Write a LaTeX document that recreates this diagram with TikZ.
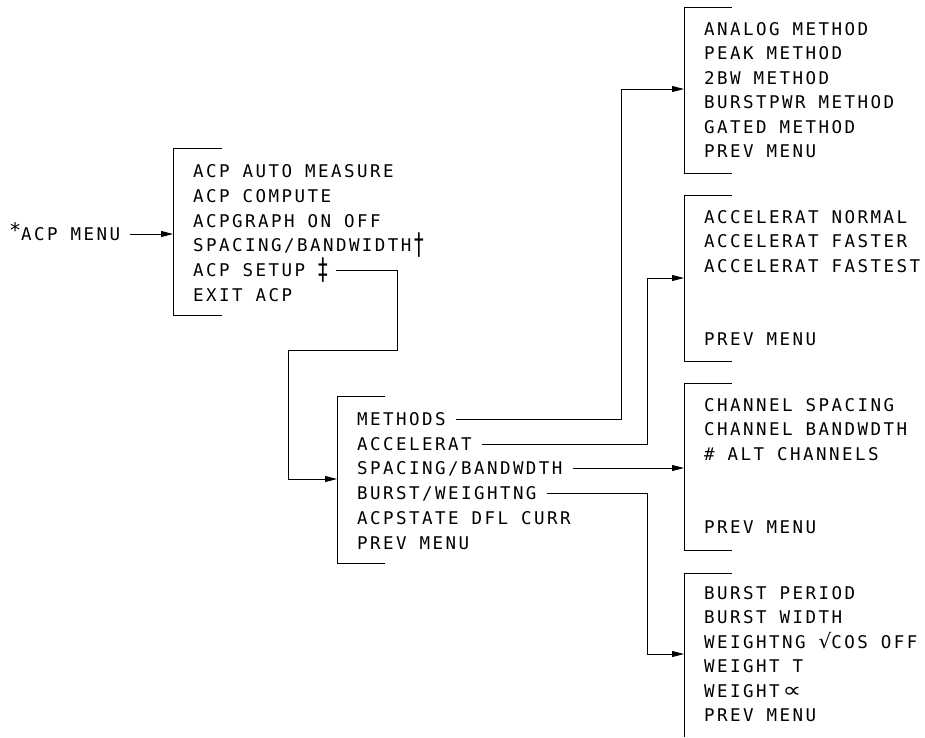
\documentclass[tikz,border=0pt]{standalone}
\usepackage{fontspec}
\usepackage{graphicx}
\usetikzlibrary{arrows.meta,calc}
\newfontfamily\monof{DejaVu Sans Mono}[LetterSpace=14]
\newfontfamily\symf{DejaVu Sans}
\newcommand\bigsym[1]{{\symf\fontsize{20pt}{20pt}\selectfont #1}}
\newcommand\talldag[1]{\raisebox{-3pt}{\scalebox{1.1}[1.7]{\symf #1}}}
\tikzset{
  mt/.style={anchor=base west, inner sep=0pt, font=\monof\fontsize{17.5pt}{19pt}\selectfont},
  bracket/.style={line width=0.9pt, line join=miter},
  conn/.style={line width=0.9pt},
  arr/.style={conn, -{Triangle[length=12pt,width=6pt]}},
}
\begin{document}
\begin{tikzpicture}[x=1pt,y=-1pt]
\useasboundingbox (0,0) rectangle (925,737);

% ---------- brackets ----------
\draw[bracket] (222,148) -- (173,148) -- (173,315) -- (222,315);
\draw[bracket] (385,396) -- (337,396) -- (337,563) -- (385,563);
\draw[bracket] (732,7) -- (684,7) -- (684,173) -- (732,173);
\draw[bracket] (732,195) -- (684,195) -- (684,361) -- (732,361);
\draw[bracket] (732,383) -- (684,383) -- (684,550) -- (732,550);
\draw[bracket] (732,573) -- (684,573) -- (684,737);

\coordinate (m1in) at (173,234);
\coordinate (m2in) at (337,479);
\coordinate (r1in) at (684,89);
\coordinate (r2in) at (684,278);
\coordinate (r3in) at (684,468);
\coordinate (r4in) at (684,654);

% ---------- entry ----------
\node[mt] (acpmenu) at (9,240) {\makebox[12pt][l]{\raisebox{3pt}{\scalebox{1.15}{*}}}ACP MENU};

% ---------- menu 1 ----------
\node[mt] (m1a) at (193,177) {ACP AUTO MEASURE};
\node[mt] (m1b) at (193,202) {ACP COMPUTE};
\node[mt] (m1c) at (193,227) {ACPGRAPH ON OFF};
\node[mt] (m1d) at (193,251) {SPACING/BANDWIDTH\,\talldag{†}};
\node[mt] (m1e) at (193,276) {ACP SETUP \talldag{‡}};
\node[mt] (m1f) at (193,301) {EXIT ACP};

% ---------- menu 2 ----------
\node[mt] (m2a) at (357,425) {METHODS};
\node[mt] (m2b) at (357,450) {ACCELERAT};
\node[mt] (m2c) at (357,474) {SPACING/BANDWDTH};
\node[mt] (m2d) at (357,499) {BURST/WEIGHTNG};
\node[mt] (m2e) at (357,524) {ACPSTATE DFL CURR};
\node[mt] (m2f) at (357,549) {PREV MENU};

% ---------- right menu 1 ----------
\node[mt] (r1a) at (704,35) {ANALOG METHOD};
\node[mt] (r1b) at (704,59.5) {PEAK METHOD};
\node[mt] (r1c) at (704,84) {2BW METHOD};
\node[mt] (r1d) at (704,108.5) {BURSTPWR METHOD};
\node[mt] (r1e) at (704,133) {GATED METHOD};
\node[mt] (r1f) at (704,157.5) {PREV MENU};

% ---------- right menu 2 ----------
\node[mt] (r2a) at (704,223) {ACCELERAT NORMAL};
\node[mt] (r2b) at (704,247.5) {ACCELERAT FASTER};
\node[mt] (r2c) at (704,272) {ACCELERAT FASTEST};
\node[mt] (r2f) at (704,345.5) {PREV MENU};

% ---------- right menu 3 ----------
\node[mt] (r3a) at (704,411) {CHANNEL SPACING};
\node[mt] (r3b) at (704,435.5) {CHANNEL BANDWDTH};
\node[mt] (r3c) at (704,460) {\# ALT CHANNELS};
\node[mt] (r3f) at (704,533.5) {PREV MENU};

% ---------- right menu 4 ----------
\node[mt] (r4a) at (704,599) {BURST PERIOD};
\node[mt] (r4b) at (704,623.5) {BURST WIDTH};
\node[mt] (r4c) at (704,648) {WEIGHTNG \bigsym{√}COS OFF};
\node[mt] (r4d) at (704,672.5) {WEIGHT T};
\node[mt] (r4e) at (704,697) {WEIGHT\,\scalebox{1.5}[1.2]{\symf ∝}};
\node[mt] (r4f) at (704,721.5) {PREV MENU};

% ---------- connectors ----------
\draw[arr] ($(acpmenu.base east)+(10,-6)$) -- (m1in);
\draw[arr] ($(m1e.base east)+(8,-6)$) -| (397,350) -| (288,479) -- (m2in);
\draw[arr] ($(m2a.base east)+(10,-6)$) -| ($(r1in)+(-63,0)$) -- (r1in);
\draw[arr] ($(m2b.base east)+(10,-6)$) -| ($(r2in)+(-37,0)$) -- (r2in);
\draw[arr] ($(m2c.base east)+(10,-6)$) -- (r3in);
\draw[arr] ($(m2d.base east)+(10,-6)$) -| ($(r4in)+(-37,0)$) -- (r4in);
\end{tikzpicture}
\end{document}
